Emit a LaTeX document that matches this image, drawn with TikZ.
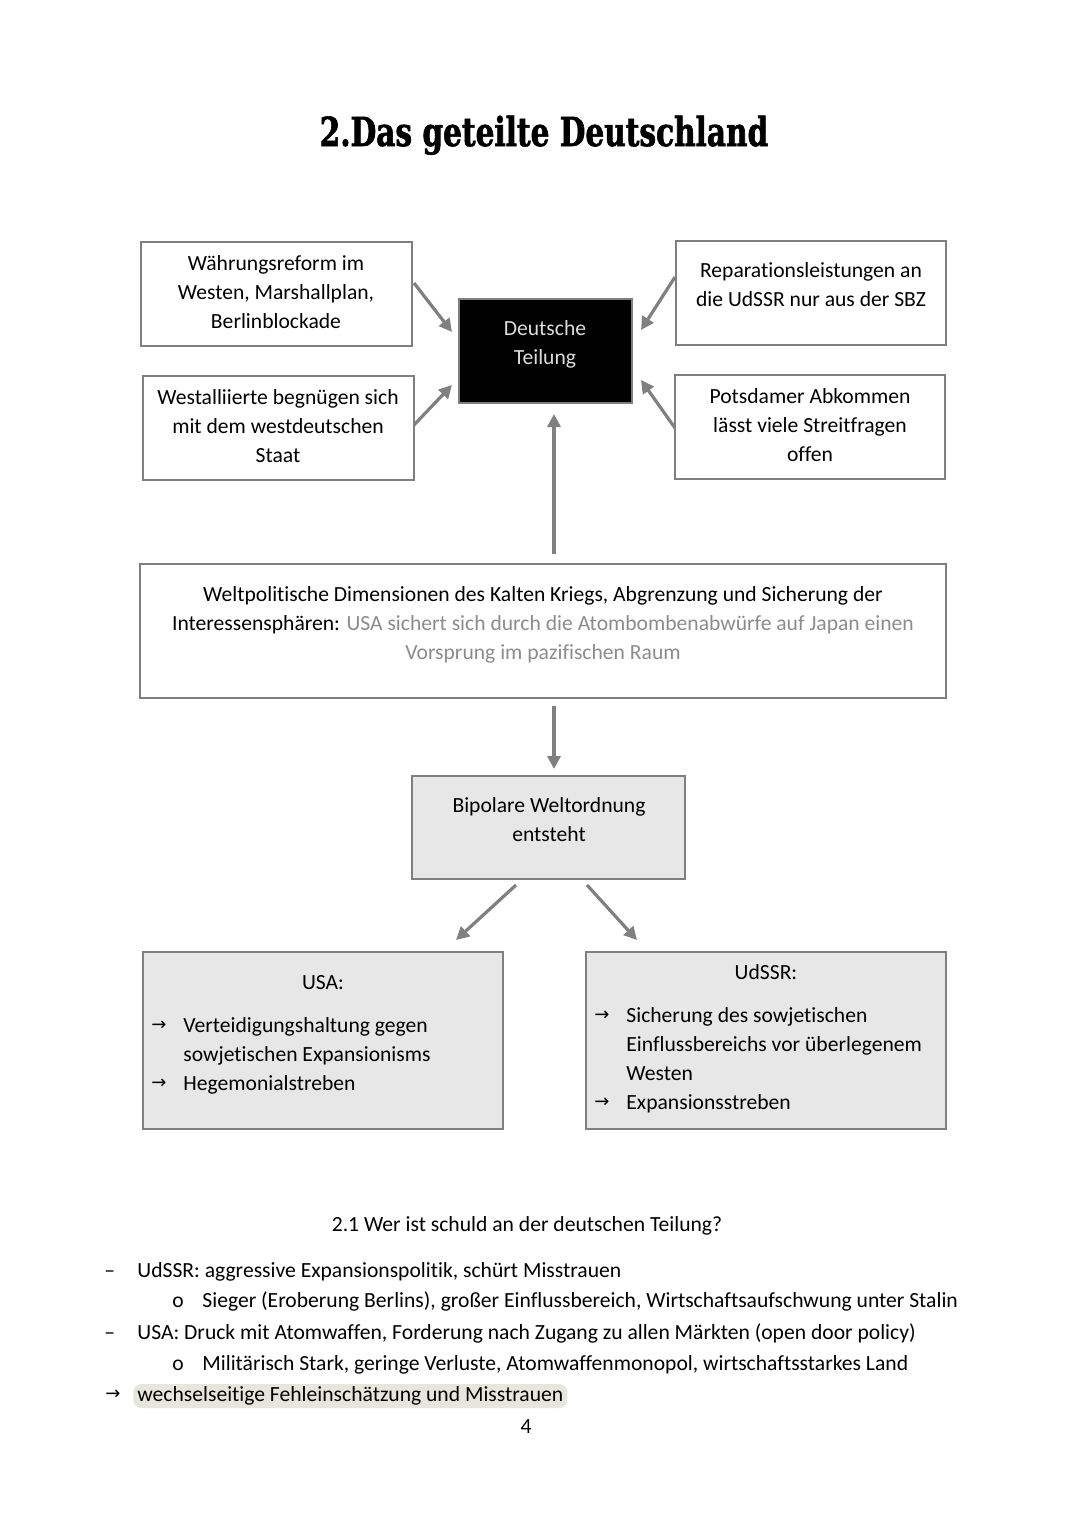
\documentclass[tikz,border=0pt]{standalone}
\usepackage{fontspec}
\setmainfont{Carlito}[Ligatures=NoCommon]
\newfontfamily\symfont{DejaVu Sans}
\newfontfamily\titlefont{DejaVu Serif}[FakeStretch=0.74, BoldFeatures={FakeBold=1.5}]
\usetikzlibrary{arrows.meta}
\definecolor{bordergray}{HTML}{7F7F7F}
\definecolor{arrowgray}{HTML}{808080}
\definecolor{boxfill}{HTML}{E7E7E7}
\definecolor{softtext}{HTML}{8C8C8C}
\definecolor{hl}{HTML}{E6E6DC}
\definecolor{lighttext}{HTML}{DCDCDC}
\newcommand\barrow{\raisebox{0.9pt}{\symfont\fontsize{9}{9}\selectfont →}}
\begin{document}
\begin{tikzpicture}[x=0.5pt,y=-0.5pt,
  box/.style={draw=bordergray, line width=1pt, inner sep=0},
  graybox/.style={box, fill=boxfill},
  txt/.style={inner sep=0, font=\fontsize{10.8}{14.6}\selectfont, anchor=base},
  ltxt/.style={txt, anchor=base west},
  conn/.style={draw=arrowgray, line width=1.6pt, -{Triangle[length=6.5pt,width=6.5pt]}}]
\useasboundingbox[fill=white] (0,0) rectangle (1080,1527);

% title
\node[anchor=base, inner sep=0, font=\titlefont\bfseries\fontsize{20}{24}\selectfont] (title) at (544,146) {2.Das geteilte Deutschland};

% boxes
\node[box, minimum width=135.5pt, minimum height=52pt] (A) at (276.5,294) {};
\node[box, minimum width=135.5pt, minimum height=52pt] (B) at (278.5,428) {};
\node[box, minimum width=135pt, minimum height=52pt] (C) at (811,293) {};
\node[box, minimum width=135pt, minimum height=52pt] (D) at (810,427) {};
\node[box, fill=black, minimum width=86.5pt, minimum height=52pt] (K) at (545.5,351) {};
\node[box, minimum width=403pt, minimum height=67pt] (E) at (543,631) {};
\node[graybox, minimum width=136.5pt, minimum height=51.5pt] (F) at (548.5,827.5) {};
\node[graybox, minimum width=180pt, minimum height=88.5pt] (G) at (323,1040.5) {};
\node[graybox, minimum width=180pt, minimum height=88.5pt] (H) at (766,1040.5) {};

% box texts
\node[txt] (tA) at (276,270) {\begin{tabular}[t]{@{}c@{}}Währungsreform im\\Westen, Marshallplan,\\Berlinblockade\end{tabular}};
\node[txt] (tB) at (278,404) {\begin{tabular}[t]{@{}c@{}}Westalliierte begnügen sich\\mit dem westdeutschen\\Staat\end{tabular}};
\node[txt] (tC) at (811,277) {\begin{tabular}[t]{@{}c@{}}Reparationsleistungen an\\die UdSSR nur aus der SBZ\end{tabular}};
\node[txt] (tD) at (810,403) {\begin{tabular}[t]{@{}c@{}}Potsdamer Abkommen\\lässt viele Streitfragen\\offen\end{tabular}};
\node[txt, text=lighttext] (tK) at (545,335) {\begin{tabular}[t]{@{}c@{}}Deutsche\\Teilung\end{tabular}};
\node[txt] (tE) at (543,601) {\begin{tabular}[t]{@{}c@{}}Weltpolitische Dimensionen des Kalten Kriegs, Abgrenzung und Sicherung der\\Interessensphären: \textcolor{softtext}{USA sichert sich durch die Atombombenabwürfe auf Japan einen}\\\textcolor{softtext}{Vorsprung im pazifischen Raum}\end{tabular}};
\node[txt] (tF) at (549,812) {\begin{tabular}[t]{@{}c@{}}Bipolare Weltordnung\\entsteht\end{tabular}};
\node[txt] (tG) at (323,989) {USA:};
\node[ltxt] (lG) at (151,1032) {\begin{tabular}[t]{@{}l@{}}\makebox[16pt][l]{\barrow}Verteidigungshaltung gegen\\\hspace*{16pt}sowjetischen Expansionisms\\\makebox[16pt][l]{\barrow}Hegemonialstreben\end{tabular}};
\node[txt] (tH) at (766,979) {UdSSR:};
\node[ltxt] (lH) at (594,1022) {\begin{tabular}[t]{@{}l@{}}\makebox[16pt][l]{\barrow}Sicherung des sowjetischen\\\hspace*{16pt}Einflussbereichs vor überlegenem\\\hspace*{16pt}Westen\\\makebox[16pt][l]{\barrow}Expansionsstreben\end{tabular}};

% connectors
\draw[conn] ([xshift=0.5pt,yshift=5.5pt]A.east) -- ([xshift=-3pt,yshift=9.5pt]K.west);
\draw[conn] ([xshift=-0.5pt,yshift=1.5pt]B.east) -- ([xshift=-3pt,yshift=-17pt]K.west);
\draw[conn] ([yshift=8pt]C.west) -- ([xshift=4pt,yshift=10.5pt]K.east);
\draw[conn] ([xshift=0.5pt,yshift=-0.5pt]D.west) -- ([xshift=4pt,yshift=-14.5pt]K.east);
\draw[conn] ([xshift=5.5pt,yshift=4.5pt]E.north) -- ([xshift=4.25pt,yshift=-5pt]K.south);
\draw[conn] ([xshift=5.5pt,yshift=-3.5pt]E.south) -- ([xshift=2.75pt,yshift=3pt]F.north);
\draw[conn] ([xshift=-16.25pt,yshift=-2.5pt]F.south) -- ([xshift=66.5pt,yshift=5.5pt]G.north);
\draw[conn] ([xshift=19.25pt,yshift=-2.5pt]F.south) -- ([xshift=-64.5pt,yshift=5.5pt]H.north);

% section 2.1
\node[txt] (head) at (527,1231) {2.1 Wer ist schuld an der deutschen Teilung?};
\node[ltxt] (d1) at (104,1277) {–};
\node[ltxt] (l1) at (137,1277) {UdSSR: aggressive Expansionspolitik, schürt Misstrauen};
\node[ltxt] (o1) at (172,1307) {o};
\node[ltxt] (l2) at (202,1307) {Sieger (Eroberung Berlins), großer Einflussbereich, Wirtschaftsaufschwung unter Stalin};
\node[ltxt] (d2) at (104,1339) {–};
\node[ltxt] (l3) at (137,1339) {USA: Druck mit Atomwaffen, Forderung nach Zugang zu allen Märkten (open door policy)};
\node[ltxt] (o2) at (172,1370) {o};
\node[ltxt] (l4) at (202,1370) {Militärisch Stark, geringe Verluste, Atomwaffenmonopol, wirtschaftsstarkes Land};
\node[ltxt] (a5) at (105,1401) {\barrow};
\node[ltxt, fill=hl, rounded corners=4pt, inner xsep=2pt, inner ysep=1pt, text height=7.5pt, text depth=2.5pt] (l5) at (133,1401) {wechselseitige Fehleinschätzung und Misstrauen};
\node[txt] (page) at (526,1433) {4};
\end{tikzpicture}
\end{document}
